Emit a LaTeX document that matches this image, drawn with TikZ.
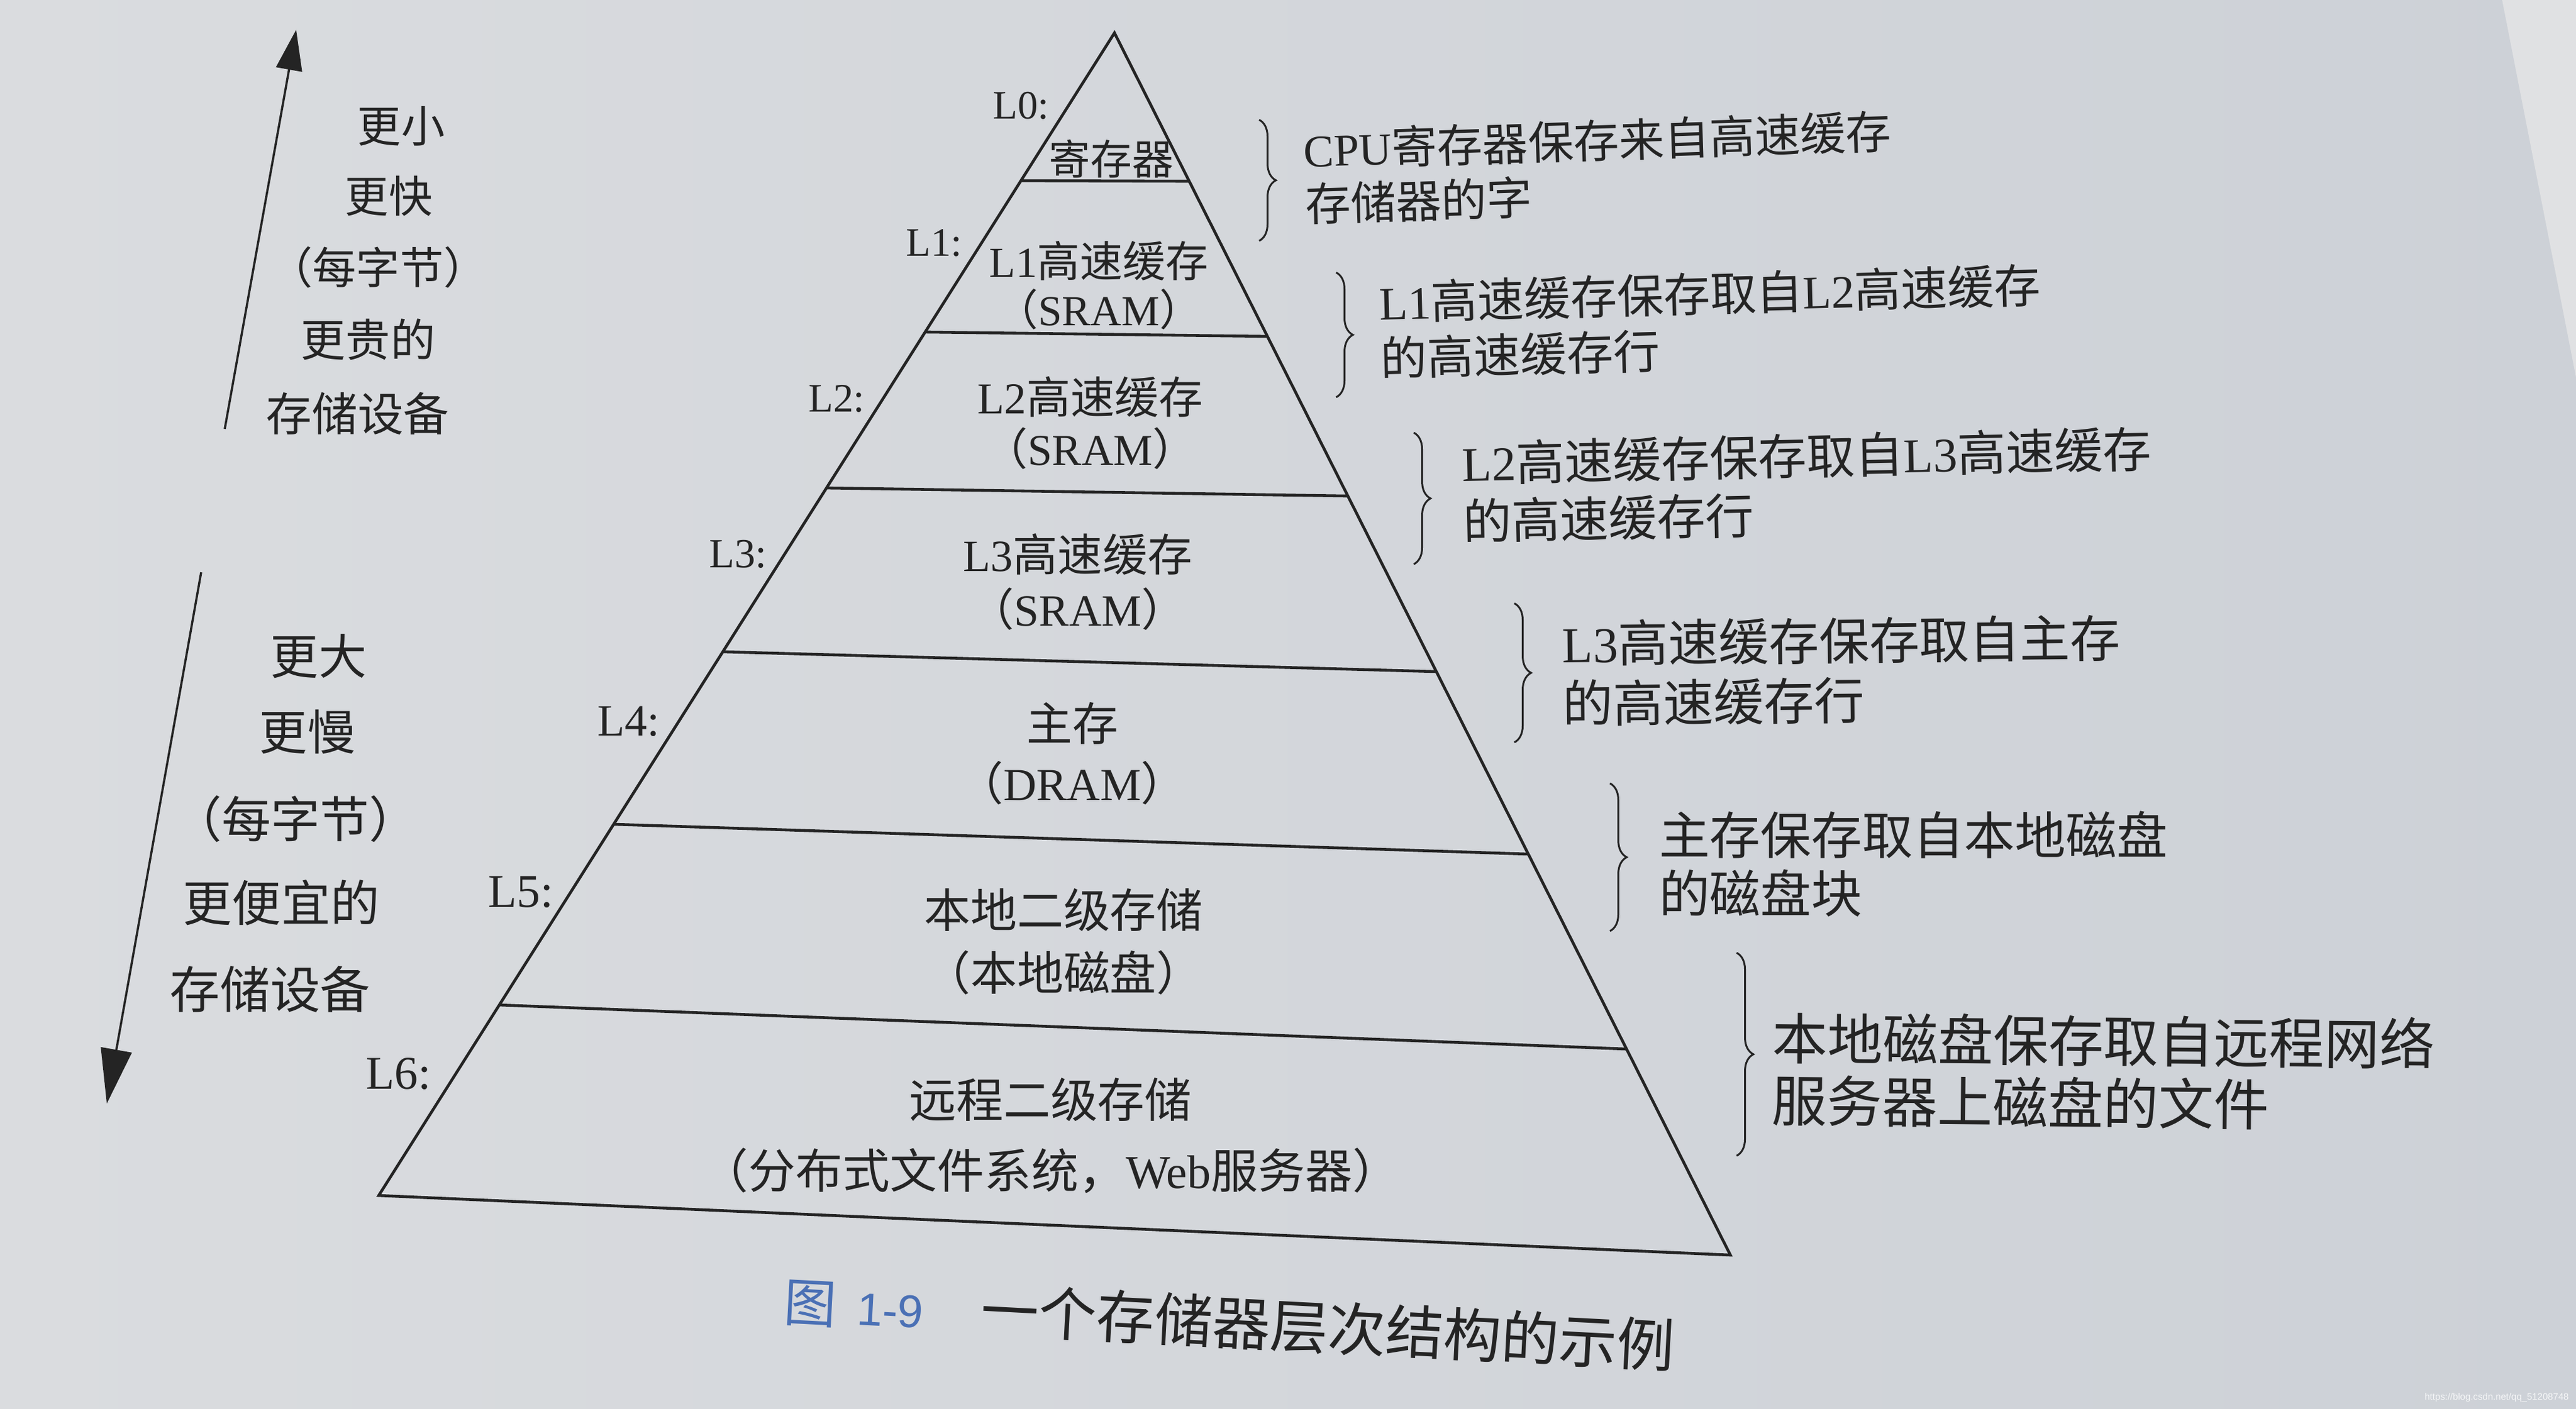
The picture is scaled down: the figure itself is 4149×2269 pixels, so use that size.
\documentclass[tikz,border=0pt]{standalone}
\usepackage{fontspec}
\setmainfont{Liberation Serif}
\newfontfamily\cjkfont{Noto Sans CJK SC}
\newfontfamily\capsans{Liberation Sans}
\usetikzlibrary{calc,arrows.meta,decorations.pathreplacing}
\newcommand\zh[1]{{\cjkfont #1}}
\newcommand\fsz[2]{\fontsize{#1pt}{#2pt}\selectfont}
\definecolor{paperL}{HTML}{DADCDF}
\definecolor{paperR}{HTML}{CDD1D7}
\definecolor{paperEdge}{HTML}{E0E1E3}
\definecolor{ink}{HTML}{242424}
\definecolor{capblue}{HTML}{4A70B5}
\tikzset{
  txt/.style={text=ink, inner sep=0pt, outer sep=0pt},
  lvl/.style={txt, anchor=east},
  note/.style={txt, anchor=west, align=left},
  mid/.style={txt, align=center},
  pyr/.style={draw=ink, line width=1.3pt, line join=miter},
  brc/.style={draw=ink, line width=0.85pt, decorate, decoration={brace, amplitude=0.27cm}},
  axisline/.style={draw=ink, line width=1pt},
}
\begin{document}
\begin{tikzpicture}[x=0.01cm,y=-0.01cm]
\useasboundingbox (0,0) rectangle (4149,2269);
\shade[left color=paperL, right color=paperR] (0,0) rectangle (4149,2269);
\fill[paperEdge] (4030,0) -- (4149,0) -- (4149,608) -- cycle;

% pyramid
\coordinate (A) at (1795,53);
\coordinate (BL) at (610,1926);
\coordinate (BR) at (2787,2022);
\draw[pyr] (A) -- (BL) -- (BR) -- cycle;
\foreach \i/\tl/\tr in {1/0.1271/0.1214, 2/0.2573/0.2483, 3/0.3914/0.3789, 4/0.5323/0.5226, 5/0.6807/0.6719, 6/0.8361/0.8314}{
  \coordinate (dl\i) at ($(A)!\tl!(BL)$);
  \coordinate (dr\i) at ($(A)!\tr!(BR)$);
  \draw[pyr] (dl\i) -- (dr\i);
}

% level labels
\node[lvl, font=\fsz{18.5}{22}] (L0) at (1690,170) {L0:};
\node[lvl, font=\fsz{18.5}{22}] (L1) at (1550,391) {L1:};
\node[lvl, font=\fsz{18.5}{22}] (L2) at (1393,642) {L2:};
\node[lvl, font=\fsz{19}{22}] (L3) at (1235,893) {L3:};
\node[lvl, font=\fsz{20.5}{24}] (L4) at (1063,1162) {L4:};
\node[lvl, font=\fsz{21.5}{25}] (L5) at (891,1437) {L5:};
\node[lvl, font=\fsz{21.5}{25}] (L6) at (694,1730) {L6:};

% level contents
\node[mid, font=\fsz{19}{22}] (c0) at (1790,256) {\zh{寄存器}};
\node[mid, font=\fsz{19.6}{22.2}] (c1) at (1770,460) {L1\zh{高速缓存}\\\zh{（}SRAM\zh{）}};
\node[mid, font=\fsz{20.2}{23.6}] (c2) at (1756,681) {L2\zh{高速缓存}\\\zh{（}SRAM\zh{）}};
\node[mid, font=\fsz{20.5}{25}] (c3) at (1736,938) {L3\zh{高速缓存}\\\zh{（}SRAM\zh{）}};
\node[mid, font=\fsz{21}{27.3}] (c4) at (1727,1214) {\zh{主存}\\\zh{（}DRAM\zh{）}};
\node[mid, font=\fsz{21.3}{28.7}] (c5) at (1713,1517) {\zh{本地二级存储}\\\zh{（本地磁盘）}};
\node[mid, font=\fsz{21.6}{32.4}] (c6) at (1692,1830) {\zh{远程二级存储}\\\zh{（分布式文件系统，}Web\zh{服务器）}};

% braces
\coordinate (b1t) at (2028,193);  \coordinate (b1b) at (2028,388);
\coordinate (b2t) at (2152,439);  \coordinate (b2b) at (2152,640);
\coordinate (b3t) at (2277,697);  \coordinate (b3b) at (2277,909);
\coordinate (b4t) at (2439,972);  \coordinate (b4b) at (2439,1196);
\coordinate (b5t) at (2593,1262); \coordinate (b5b) at (2593,1500);
\coordinate (b6t) at (2797,1535); \coordinate (b6b) at (2797,1862);
\foreach \i in {1,...,6}{ \draw[brc] (b\i t) -- (b\i b); }

% annotations
\node[note, rotate=1.8, font=\fsz{20.8}{25}] (t1) at (2101,285) {CPU\zh{寄存器保存来自高速缓存}\\\zh{存储器的字}};
\node[note, rotate=1.5, font=\fsz{21.3}{25.6}] (t2) at (2223,532) {L1\zh{高速缓存保存取自}L2\zh{高速缓存}\\\zh{的高速缓存行}};
\node[note, rotate=1.2, font=\fsz{22.2}{26.6}] (t3) at (2356,793) {L2\zh{高速缓存保存取自}L3\zh{高速缓存}\\\zh{的高速缓存行}};
\node[note, rotate=0.6, font=\fsz{23}{27.4}] (t4) at (2517,1085) {L3\zh{高速缓存保存取自主存}\\\zh{的高速缓存行}};
\node[note, font=\fsz{23.3}{26.5}] (t5) at (2672,1392) {\zh{主存保存取自本地磁盘}\\\zh{的磁盘块}};
\node[note, rotate=-0.5, font=\fsz{25.3}{28.5}] (t6) at (2854,1722) {\zh{本地磁盘保存取自远程网络}\\\zh{服务器上磁盘的文件}};

% axis arrows
\coordinate (upS) at (362,691);  \coordinate (upE) at (477,48);
\coordinate (dnS) at (324,922);  \coordinate (dnE) at (172,1778);
\draw[axisline, -{Triangle[length=0.65cm, width=0.42cm]}] (upS) -- (upE);
\draw[axisline, -{Triangle[length=0.88cm, width=0.5cm]}] (dnS) -- (dnE);

% left texts (up)
\node[mid, font=\fsz{20}{24}] (u1) at (646,203) {\zh{更小}};
\node[mid, font=\fsz{20}{24}] (u2) at (626,316) {\zh{更快}};
\node[mid, font=\fsz{20}{24}] (u3) at (609,431) {\zh{（每字节）}};
\node[mid, font=\fsz{20.5}{24}] (u4) at (593,547) {\zh{更贵的}};
\node[mid, font=\fsz{21}{25}] (u5) at (576,666) {\zh{存储设备}};
% left texts (down)
\node[mid, font=\fsz{22}{26}] (d1) at (513,1057) {\zh{更大}};
\node[mid, font=\fsz{22}{26}] (d2) at (495,1179) {\zh{更慢}};
\node[mid, font=\fsz{22.5}{26}] (d3) at (476,1319) {\zh{（每字节）}};
\node[mid, font=\fsz{22.5}{26}] (d4) at (453,1454) {\zh{更便宜的}};
\node[mid, font=\fsz{23}{27}] (d5) at (435,1594) {\zh{存储设备}};

% caption
\node[txt, anchor=west, rotate=-3, font=\fsz{26.5}{30}] (cap) at (1263,2093)
  {\textcolor{capblue}{\fsz{24}{27}\zh{图}\hspace{0.4em}{\capsans\fsz{21}{24}1-9}}\hspace{1.0em}\zh{一个存储器层次结构的示例}};

% watermark
\node[anchor=east, inner sep=0pt, text=white!80!paperR, font=\capsans\fsz{4.3}{5}] (wm) at (4138,2252) {https://blog.csdn.net/qq\_51208748};
\end{tikzpicture}
\end{document}
